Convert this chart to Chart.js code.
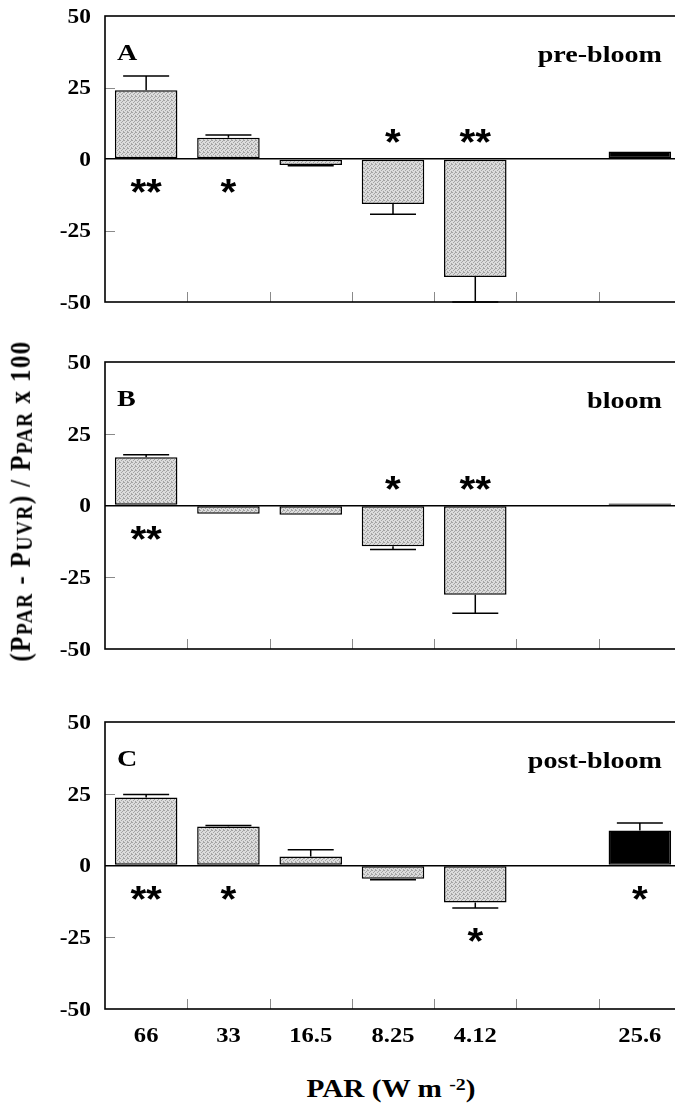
<!DOCTYPE html>
<html>
<head>
<meta charset="utf-8">
<script src="https://cdn.jsdelivr.net/npm/chart.js@4.4.1/dist/chart.umd.min.js"></script>
<style>
  body { margin: 0; width: 675px; height: 1105px; overflow: hidden; background: #fff; position: relative; }
  canvas { position: absolute; left: 0; }
  .title { position: absolute; white-space: nowrap; font-family: "Liberation Serif", "Times New Roman", serif; font-weight: bold; color: #000; }
  #yTitle { left: 21px; top: 501px; font-size: 25px; letter-spacing: 1.4px; transform: translate(-50%, -50%) rotate(-90deg) scaleY(1.17); }
  #yTitle span { font-size: 78%; vertical-align: -0.12em; }
  #xTitle { left: 391px; top: 1089px; font-size: 25px; transform: translate(-50%, -50%) scaleX(1.17); }
  #xTitle sup { font-size: 68%; vertical-align: 0.45em; }
</style>
</head>
<body>
<canvas id="chartA" width="690" height="312" style="top:0px"></canvas>
<canvas id="chartB" width="690" height="313" style="top:346px"></canvas>
<canvas id="chartC" width="690" height="363" style="top:706px"></canvas>
<div class="title" id="yTitle">(P<span>PAR</span> - P<span>UVR</span>) / P<span>PAR</span> x 100</div>
<div class="title" id="xTitle">PAR (W m <sup>-2</sup>)</div>
<script>
// PAR levels (W m-2); the empty slot separates the last bar
const categories = ['66', '33', '16.5', '8.25', '4.12', '', '25.6'];

const preBloom = [24.0, 7.4, -2.1, -15.7, -41.3, null, 2.6];
const preBloomErr = [29.0, 8.4, -2.4, -19.3, -50, null, null];
const preBloomStars = ['**', '*', '', '*', '**', '', ''];

const bloom = [16.8, -2.9, -3.2, -14.2, -31.1, null, 0.7];
const bloomErr = [17.7, null, null, -15.3, -37.5, null, null];
const bloomStars = ['**', '', '', '*', '**', '', ''];

const postBloom = [23.7, 13.6, 3.1, -4.6, -12.9, null, 12.2];
const postBloomErr = [24.7, 13.9, 5.5, -5.0, -14.8, null, 14.8];
const postBloomStars = ['**', '*', '', '', '*', '', '*'];

const yMin = -50, yMax = 50, yStep = 25;

const SX = 1.17; // text in the figure is drawn a bit wide
const serif = '"Liberation Serif", "Times New Roman", serif';

function stipple() {
  const c = document.createElement('canvas');
  c.width = c.height = 4;
  const g = c.getContext('2d');
  g.fillStyle = '#dcdcdc';
  g.fillRect(0, 0, 4, 4);
  g.fillStyle = '#a4a4a4';
  [[0, 0], [2, 1], [1, 2], [3, 3], [3, 0]].forEach(p => g.fillRect(p[0], p[1], 1, 1));
  return g.createPattern(c, 'repeat');
}
const grayFill = stipple();

function wideText(ctx, text, x, y, align) {
  ctx.save();
  ctx.translate(x, y);
  ctx.scale(SX, 1);
  ctx.textAlign = align;
  ctx.textBaseline = 'alphabetic';
  ctx.fillText(text, 0, 0);
  ctx.restore();
}

const decor = {
  id: 'decor',
  afterDatasetsDraw(chart, args, opts) {
    const ctx = chart.ctx;
    const a = chart.chartArea;
    const xs = chart.scales.x, ys = chart.scales.y;
    const meta = chart.getDatasetMeta(0);
    const values = chart.data.datasets[0].data;
    ctx.save();

    // inside tick marks
    ctx.strokeStyle = '#8a8a8a';
    ctx.lineWidth = 1;
    ys.ticks.forEach(t => {
      if (t.value <= yMin || t.value >= yMax || t.value === 0) return;
      const y = Math.round(ys.getPixelForValue(t.value)) + 0.5;
      ctx.beginPath(); ctx.moveTo(a.left, y); ctx.lineTo(a.left + 10, y); ctx.stroke();
    });
    const slot = (a.right - a.left) / categories.length;
    for (let i = 1; i < categories.length; i++) {
      const x = Math.round(a.left + i * slot) + 0.5;
      ctx.beginPath(); ctx.moveTo(x, a.bottom); ctx.lineTo(x, a.bottom - 10); ctx.stroke();
    }

    // error bars (one-sided, away from zero)
    ctx.strokeStyle = '#000';
    ctx.lineWidth = 1.5;
    opts.errors.forEach((e, i) => {
      if (e === null || values[i] === null) return;
      const x = meta.data[i].x;
      const y0 = ys.getPixelForValue(values[i]);
      const y1 = ys.getPixelForValue(e);
      ctx.beginPath();
      ctx.moveTo(x, y0); ctx.lineTo(x, y1);
      ctx.moveTo(x - 23, y1); ctx.lineTo(x + 23, y1);
      ctx.stroke();
    });

    // frame
    ctx.lineWidth = 1.6;
    ctx.strokeRect(a.left, a.top, a.right - a.left, a.bottom - a.top);

    // significance stars
    ctx.fillStyle = '#000';
    ctx.font = 'bold 100px "Liberation Sans", sans-serif';
    const m = ctx.measureText('*');
    const h100 = m.actualBoundingBoxAscent + m.actualBoundingBoxDescent;
    const fs = 14 / h100 * 100;
    ctx.font = 'bold ' + fs.toFixed(1) + 'px "Liberation Sans", sans-serif';
    const m2 = ctx.measureText('*');
    const midUp = (m2.actualBoundingBoxAscent - m2.actualBoundingBoxDescent) / 2;
    opts.stars.forEach((s, i) => {
      if (!s) return;
      const v = values[i];
      const e = opts.errors[i] === null ? v : opts.errors[i];
      let y;
      if (opts.pastError.includes(i)) {
        y = v < 0 ? ys.getPixelForValue(Math.min(v, e)) + 27 : ys.getPixelForValue(Math.max(v, e)) - 23;
      } else {
        y = v > 0 ? ys.getPixelForValue(0) + 27 : ys.getPixelForValue(0) - 23;
      }
      const cx = meta.data[i].x;
      const gap = 15.7;
      for (let k = 0; k < s.length; k++) {
        const x = cx + (k - (s.length - 1) / 2) * gap;
        ctx.save();
        ctx.translate(x, y + midUp);
        ctx.scale(1.1, 1);
        ctx.textAlign = 'center';
        ctx.textBaseline = 'alphabetic';
        ctx.fillText('*', 0, 0);
        ctx.restore();
      }
    });

    // panel letter and stage
    ctx.font = 'bold 24px ' + serif;
    wideText(ctx, opts.letter, a.left + 12, a.top + 44, 'left');
    wideText(ctx, opts.stage, a.right - 19, a.top + 46, 'right');

    // y tick labels
    ctx.font = 'bold 20px ' + serif;
    ys.ticks.forEach(t => {
      const y = ys.getPixelForValue(t.value);
      wideText(ctx, String(t.value), a.left - 14, y + 6.8, 'right');
    });

    // x tick labels
    if (opts.xLabels) {
      ctx.font = 'bold 21px ' + serif;
      xs.ticks.forEach((t, i) => {
        const label = xs.getLabelForValue(t.value);
        if (label) wideText(ctx, label, xs.getPixelForTick(i), a.bottom + 33, 'center');
      });
    }
    ctx.restore();
  }
};

function makePanel(id, values, errors, stars, letter, stage, xLabels, pastError, bottomSpace) {
  new Chart(document.getElementById(id), {
    type: 'bar',
    data: {
      labels: categories,
      datasets: [{
        data: values,
        backgroundColor: values.map((v, i) => i === categories.length - 1 ? '#000' : grayFill),
        borderColor: '#000',
        borderWidth: 1.5,
        borderSkipped: false,
        categoryPercentage: 0.76,
        barPercentage: 1
      }]
    },
    options: {
      responsive: false,
      animation: false,
      events: [],
      layout: { padding: { top: 16, right: 9, left: 0, bottom: 0 } },
      plugins: {
        legend: { display: false },
        tooltip: { enabled: false },
        decor: { errors, stars, letter, stage, xLabels, pastError }
      },
      scales: {
        x: {
          grid: { display: false },
          border: { display: false },
          ticks: { display: false },
          afterFit: s => { s.height = bottomSpace; }
        },
        y: {
          min: yMin,
          max: yMax,
          ticks: { display: false, stepSize: yStep },
          border: { display: false },
          grid: {
            drawTicks: false,
            lineWidth: 1.5,
            color: c => c.tick && c.tick.value === 0 ? '#000' : 'rgba(0,0,0,0)'
          },
          afterFit: s => { s.width = 105; }
        }
      }
    },
    plugins: [decor]
  });
}

makePanel('chartA', preBloom, preBloomErr, preBloomStars, 'A', 'pre-bloom', false, [], 10);
makePanel('chartB', bloom, bloomErr, bloomStars, 'B', 'bloom', false, [], 10);
makePanel('chartC', postBloom, postBloomErr, postBloomStars, 'C', 'post-bloom', true, [4], 60);
</script>
</body>
</html>
